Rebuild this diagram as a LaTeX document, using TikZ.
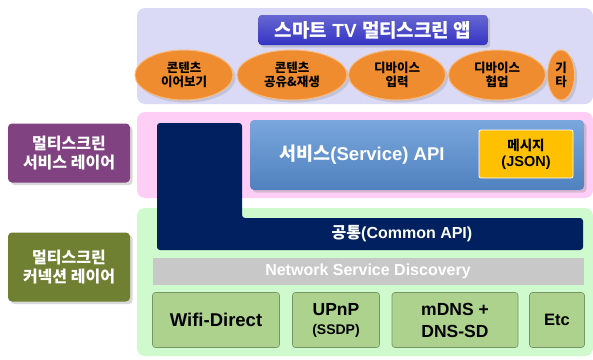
\documentclass[tikz,border=0pt]{standalone}
\usepackage{fontspec}
\setmainfont{Liberation Sans}
\newfontfamily\kr{Noto Sans CJK KR}
\usetikzlibrary{shapes.geometric,shadows}
\definecolor{appbg}{RGB}{218,218,246}
\definecolor{apptitle}{RGB}{52,52,196}
\definecolor{usecase}{RGB}{240,140,48}
\definecolor{servbg}{RGB}{255,206,246}
\definecolor{connbg}{RGB}{206,250,206}
\definecolor{navy}{RGB}{0,32,96}
\definecolor{servblue}{RGB}{88,144,212}
\definecolor{msgyellow}{RGB}{255,192,0}
\definecolor{nsdgray}{RGB}{200,200,200}
\definecolor{proto}{RGB}{172,210,142}
\definecolor{servlayer}{RGB}{128,66,128}
\definecolor{connlayer}{RGB}{112,128,50}

\begin{document}
\begin{tikzpicture}[x=1pt, y=-1pt,
  usecase/.style={ellipse, fill=usecase, draw=usecase!60!white, line width=1pt,
    align=center, font=\kr\bfseries\fontsize{12.5}{14}\selectfont, inner sep=0pt,
    minimum height=50pt, drop shadow={opacity=0.25}},
  layer/.style={rounded corners=4pt, text=white, align=center, minimum width=122pt,
    font=\kr\bfseries\fontsize{16}{19}\selectfont, drop shadow={opacity=0.3}},
  proto/.style={rounded corners=3pt, fill=proto, draw=proto!70!black, line width=0.6pt,
    align=center, font=\bfseries\fontsize{17.5}{22}\selectfont, minimum height=55pt}]
\useasboundingbox (0,0) rectangle (593,359);
% app layer (top)
\fill[appbg, rounded corners=8pt] (137,8) rectangle (593,104);
\node[rounded corners=3pt, top color=apptitle!75!white, bottom color=apptitle,
  text=white, font=\bfseries\fontsize{19}{20}\selectfont,
  minimum width=229pt, minimum height=30pt, drop shadow={opacity=0.3}]
  (app) at (373,30) {{\kr 스마트} TV {\kr 멀티스크린 앱}};
\node[usecase, minimum width=98pt] (resume) at (184,75) {콘텐츠\\이어보기};
\node[usecase, minimum width=110pt] (share) at (292,75) {콘텐츠\\공유\&재생};
\node[usecase, minimum width=97pt] (input) at (397,75) {디바이스\\입력};
\node[usecase, minimum width=97pt] (collab) at (497,75) {디바이스\\협업};
\node[usecase, minimum width=27pt] (etc) at (561,75) {기\\타};
% service layer
\fill[servbg, rounded corners=8pt] (137,112) rectangle (593,198);
\node[layer, fill=servlayer, minimum height=59pt] (servlabel) at (69,153)
  {멀티스크린\\서비스 레이어};
\node[rounded corners=4pt, top color=servblue!80!white, bottom color=servblue!90!black,
  minimum width=334pt, minimum height=70pt, drop shadow={opacity=0.3}]
  (service) at (417,155) {};
\node[text=white, font=\bfseries\fontsize{18.5}{20}\selectfont] (servtext) at (362,155)
  {{\kr 서비스}(Service) API};
\node[rounded corners=2pt, fill=msgyellow, draw=white, line width=0.8pt, align=center,
  font=\bfseries\fontsize{14.5}{16}\selectfont, minimum width=94pt, minimum height=48pt]
  (msg) at (526,154) {{\kr\fontsize{13.5}{15}\selectfont 메시지}\\(JSON)};
% connection layer
\fill[connbg, rounded corners=8pt] (137,208) rectangle (593,356);
\node[layer, fill=connlayer, minimum height=69pt] (connlabel) at (69,267)
  {멀티스크린\\커넥션 레이어};
% common API (L shape)
\fill[navy, rounded corners=3pt] (157,123) -- (242,123) -- (242,218) -- (583,218)
  -- (583,250) -- (157,250) -- cycle;
\node[text=white, font=\bfseries\fontsize{16}{17}\selectfont] (common) at (402,234)
  {{\kr 공통}(Common API)};
\node[fill=nsdgray, text=white, font=\bfseries\fontsize{16}{17}\selectfont,
  minimum width=431pt, minimum height=27pt] (nsd) at (368,271)
  {Network Service Discovery};
\node[proto, minimum width=127pt, font=\bfseries\fontsize{18.5}{20}\selectfont]
  (wifi) at (216,320) {Wifi-Direct};
\node[proto, minimum width=87pt] (upnp) at (336,320)
  {UPnP\\[-3pt]{\fontsize{14}{15}\selectfont (SSDP)}};
\node[proto, minimum width=126pt] (mdns) at (455,320) {mDNS +\\DNS-SD};
\node[proto, minimum width=55pt, font=\bfseries\fontsize{16.5}{18}\selectfont]
  (other) at (557,320) {Etc};
\end{tikzpicture}
\end{document}
